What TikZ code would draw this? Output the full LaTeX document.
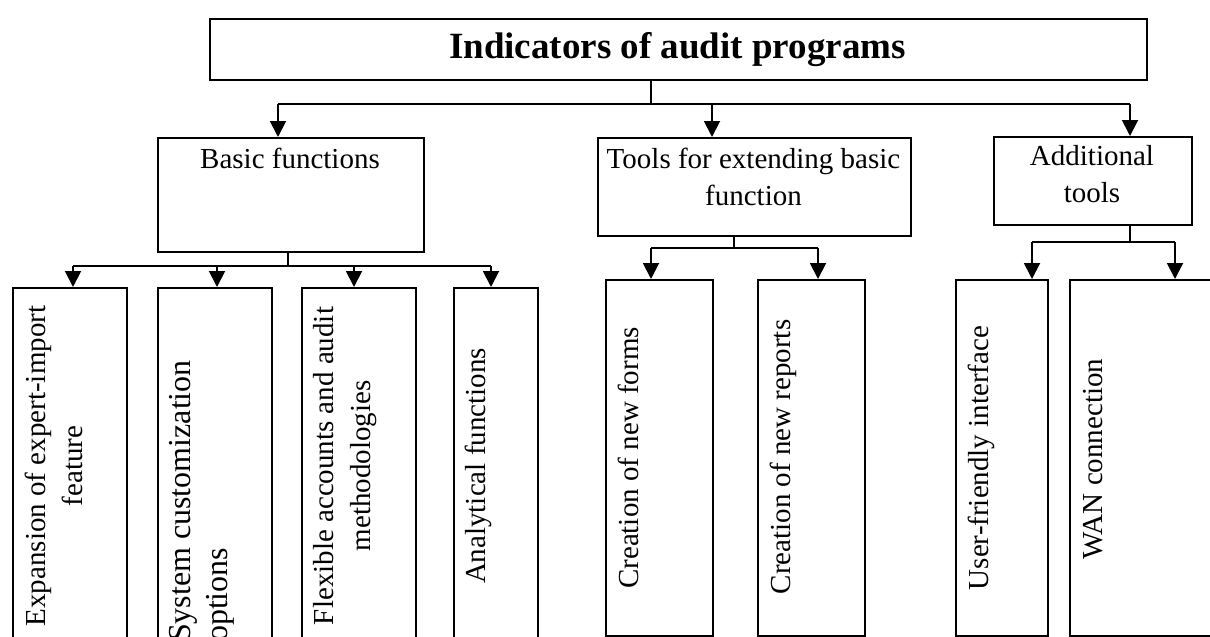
\documentclass[tikz,border=0pt]{standalone}
\usepackage{fontspec}
\setmainfont{Liberation Serif}
\usetikzlibrary{arrows.meta}
\begin{document}
\begin{tikzpicture}[x=1pt,y=-1pt,
  box/.style={draw, line width=1.9pt, inner sep=0pt, anchor=north west},
  link/.style={line width=1.9pt},
  arr/.style={link, -{Triangle[width=16pt,length=16pt]}},
  lbl/.style={font=\fontsize{29}{37}\selectfont, inner sep=0pt, align=center},
  vlbl/.style={lbl, rotate=90, anchor=north}]
\useasboundingbox (0,0) rectangle (1210,637);
\clip (0,0) rectangle (1210,637);

% ---- root ----
\node[box, minimum width=937pt, minimum height=61pt] (root) at (209,18) {};
\node[font=\fontsize{37}{44}\selectfont\bfseries, inner sep=0pt, anchor=north]
  (roottxt) at (677.5,32) {Indicators of audit programs};

% ---- second level ----
\node[box, minimum width=266pt, minimum height=114pt] (basic) at (157,137) {};
\node[lbl, anchor=north] (basictxt) at (290,148) {Basic functions};

\node[box, minimum width=313pt, minimum height=98pt] (tools) at (597,137) {};
\node[lbl, anchor=north] (toolstxt) at (753.5,148) {Tools for extending basic\\function};

\node[box, minimum width=198pt, minimum height=88pt] (extra) at (993,136) {};
\node[lbl, anchor=north] (extratxt) at (1092,145) {Additional\\tools};

% ---- third level (boxes run past the lower edge) ----
\node[box, minimum width=114pt, minimum height=400pt] (b1) at (12,287) {};
\node[box, minimum width=114pt, minimum height=400pt] (b2) at (157,287) {};
\node[box, minimum width=114pt, minimum height=400pt] (b3) at (301,287) {};
\node[box, minimum width=84pt,  minimum height=400pt] (b4) at (453,287) {};
\node[box, minimum width=107pt, minimum height=356pt] (t1) at (605,279) {};
\node[box, minimum width=107pt, minimum height=356pt] (t2) at (757,279) {};
\node[box, minimum width=92pt,  minimum height=356pt] (a1) at (955,279) {};
\node[box, minimum width=160pt, minimum height=356pt] (a2) at (1069,279) {};

\node[vlbl] (b1txt) at (25,466) {Expansion of expert-import\\feature};
\node[lbl, rotate=90, align=left, anchor=north east, font=\fontsize{32}{37}\selectfont]
  (b2txt) at (169,360) {System customization\\options};
\node[vlbl] (b3txt) at (313,466) {Flexible accounts and audit\\methodologies};
\node[vlbl] (b4txt) at (465,466) {Analytical functions};
\node[vlbl] (t1txt) at (618,458) {Creation of new forms};
\node[vlbl] (t2txt) at (770,457) {Creation of new reports};
\node[vlbl] (a1txt) at (968,458) {User-friendly interface};
\node[vlbl] (a2txt) at (1083,459) {WAN connection};

% ---- root connectors ----
\coordinate (rj) at (651,104);
\coordinate (ra) at (278,104);
\coordinate (rb) at (712,104);
\coordinate (rc) at (1130,104);
\draw[link] (root.south -| rj) -- (rj);
\draw[link] (ra) -- (rc);
\draw[arr] (ra) -- (ra |- basic.north);
\draw[arr] (rb) -- (rb |- tools.north);
\draw[arr] (rc) -- (rc |- extra.north);

% ---- basic functions connectors ----
\coordinate (bj) at (288,266);
\coordinate (b1a) at (73,266);
\coordinate (b2a) at (217,266);
\coordinate (b3a) at (354,266);
\coordinate (b4a) at (491,266);
\draw[link] (basic.south -| bj) -- (bj);
\draw[link] (b1a) -- (b4a);
\draw[arr] (b1a) -- (b1a |- b1.north);
\draw[arr] (b2a) -- (b2a |- b2.north);
\draw[arr] (b3a) -- (b3a |- b3.north);
\draw[arr] (b4a) -- (b4a |- b4.north);

% ---- extension tools connectors ----
\coordinate (tj) at (734,248);
\coordinate (t1a) at (651,248);
\coordinate (t2a) at (818,248);
\draw[link] (tools.south -| tj) -- (tj);
\draw[link] (t1a) -- (t2a);
\draw[arr] (t1a) -- (t1a |- t1.north);
\draw[arr] (t2a) -- (t2a |- t2.north);

% ---- additional tools connectors ----
\coordinate (aj) at (1130,242);
\coordinate (a1a) at (1032,242);
\coordinate (a2a) at (1175,242);
\draw[link] (extra.south -| aj) -- (aj);
\draw[link] (a1a) -- (a2a);
\draw[arr] (a1a) -- (a1a |- a1.north);
\draw[arr] (a2a) -- (a2a |- a2.north);
\end{tikzpicture}
\end{document}
